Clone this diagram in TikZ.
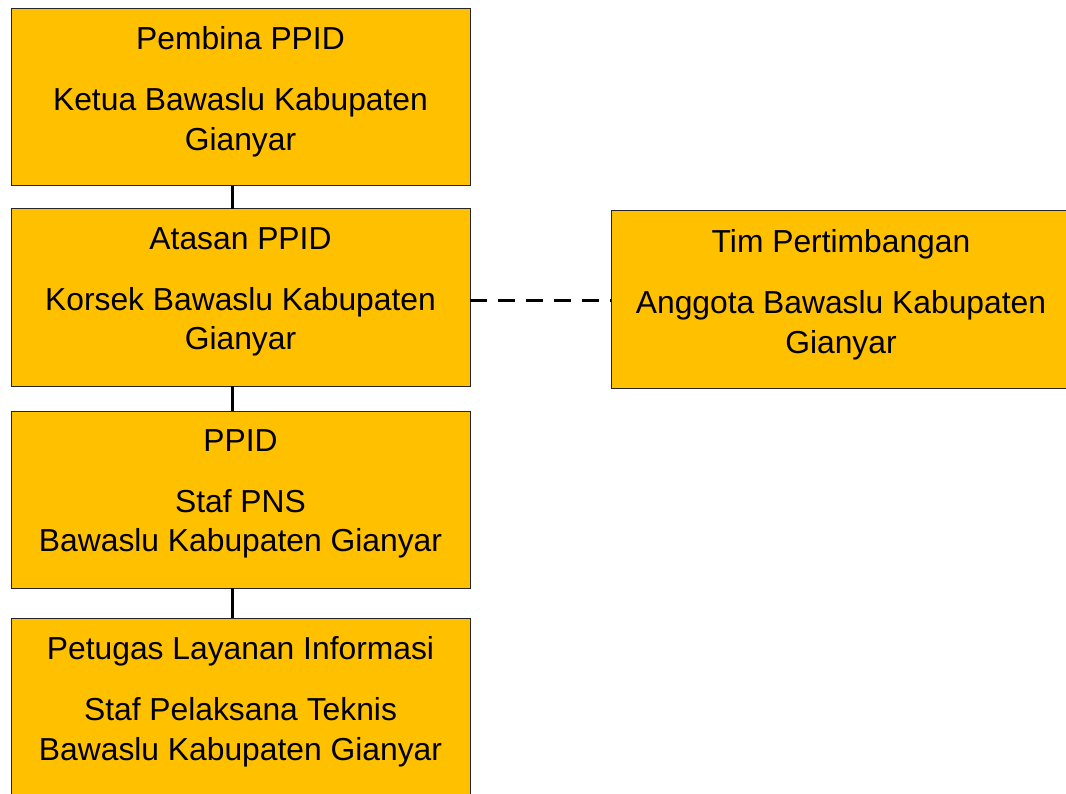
\documentclass[tikz,border=0pt]{standalone}
\usepackage{fontspec}
\setmainfont{Liberation Sans}
\usetikzlibrary{calc}
\definecolor{boxfill}{HTML}{FFC000}
\tikzset{
  orgbox/.style={draw=black!85, line width=1pt, fill=boxfill, minimum width=459pt, minimum height=177pt, inner sep=0pt, outer sep=0pt},
  boxtext/.style={anchor=north, inner sep=0pt, align=center, font=\fontsize{31.8}{39.3}\selectfont},
  solidlink/.style={line width=3pt, black},
  dashlink/.style={line width=3pt, black, dash pattern=on 16.5pt off 11.5pt}
}
\begin{document}
\begin{tikzpicture}[x=1pt, y=-1pt]
\clip (0,0) rectangle (1066,794);
\fill[white] (0,0) rectangle (1066,794);
\node[orgbox] (b1) at (240.5,97.5) {};
\node[orgbox] (b2) at (240.5,297.5) {};
\node[orgbox] (b3) at (240.5,499.5) {};
\node[orgbox] (b4) at (240.5,706.5) {};
\node[orgbox, minimum width=460pt] (r) at (841,299.5) {};
\node[boxtext] (t1) at ($(b1.north)+(0,17.5)$) {Pembina PPID\\[21.7pt]Ketua Bawaslu Kabupaten\\Gianyar};
\node[boxtext] (t2) at ($(b2.north)+(0,18.5)$) {Atasan PPID\\[21.7pt]Korsek Bawaslu Kabupaten\\Gianyar};
\node[boxtext] (t3) at ($(b3.north)+(0,18.5)$) {PPID\\[21.7pt]Staf PNS\\Bawaslu Kabupaten Gianyar};
\node[boxtext] (t4) at ($(b4.north)+(0,18.5)$) {Petugas Layanan Informasi\\[21.7pt]Staf Pelaksana Teknis\\Bawaslu Kabupaten Gianyar};
\node[boxtext] (tr) at ($(r.north)+(0,18.5)$) {Tim Pertimbangan\\[21.7pt]Anggota Bawaslu Kabupaten\\Gianyar};
\draw[solidlink] ($(b1.south)+(-8.5,0)$) -- ($(b2.north)+(-8.5,0)$);
\draw[solidlink] ($(b2.south)+(-8.5,0)$) -- ($(b3.north)+(-8.5,0)$);
\draw[solidlink] ($(b3.south)+(-8.5,0)$) -- ($(b4.north)+(-8.5,0)$);
\coordinate (d1) at ($(b2.east)+(0,3.2)$);
\draw[dashlink] (d1) -- (d1 -| r.west);
\end{tikzpicture}
\end{document}
